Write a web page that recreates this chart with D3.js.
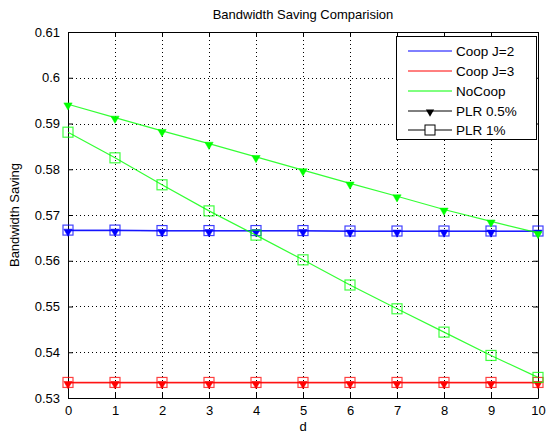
<!DOCTYPE html>
<html>
  <head>
    <meta charset="utf-8">
    <title>Bandwidth Saving Comparision</title>
    <script type="text/javascript" src="https://d3js.org/d3.v7.min.js"></script>
    <style>
      html, body { margin: 0; background: #fff; }
      text { font-family: "Liberation Sans", Arial, sans-serif; }
    </style>
  </head>
  <body>
    <script>

    // data
    var dValues = [0, 1, 2, 3, 4, 5, 6, 7, 8, 9, 10];
    var coopJ2Plr05 = [0.5666, 0.5666, 0.5665, 0.5665, 0.5665, 0.5665, 0.5664, 0.5664, 0.5664, 0.5664, 0.5664];
    var coopJ2Plr1  = [0.5667, 0.5667, 0.5666, 0.5666, 0.5666, 0.5666, 0.5665, 0.5665, 0.5665, 0.5665, 0.5665];
    var coopJ3Plr05 = [0.5333, 0.5333, 0.5333, 0.5333, 0.5333, 0.5333, 0.5333, 0.5333, 0.5333, 0.5333, 0.5333];
    var coopJ3Plr1  = [0.5334, 0.5334, 0.5334, 0.5334, 0.5334, 0.5334, 0.5334, 0.5334, 0.5334, 0.5334, 0.5334];
    var noCoopPlr05 = [0.5942, 0.5913, 0.5884, 0.5856, 0.5827, 0.5798, 0.5769, 0.5741, 0.5712, 0.5686, 0.5661];
    var noCoopPlr1  = [0.5881, 0.5825, 0.5766, 0.5709, 0.5656, 0.5602, 0.5547, 0.5495, 0.5444, 0.5393, 0.5345];
    var yTicks = [0.53, 0.54, 0.55, 0.56, 0.57, 0.58, 0.59, 0.6, 0.61];
    var legendNames = ["Coop J=2", "Coop J=3", "NoCoop", "PLR 0.5%", "PLR 1%"];

    var series = [
      {vals: coopJ2Plr05, color: "#0000ff", marker: "tri"},
      {vals: coopJ2Plr1,  color: "#0000ff", marker: "sq"},
      {vals: coopJ3Plr05, color: "#ff0000", marker: "tri"},
      {vals: coopJ3Plr1,  color: "#ff0000", marker: "sq"},
      {vals: noCoopPlr05, color: "#00ff00", marker: "tri"},
      {vals: noCoopPlr1,  color: "#00ff00", marker: "sq"}
    ];

    var W = 547, H = 435;
    var plotL = 68, plotR = 538, plotT = 32, plotB = 398;

    var svg = d3.select("body").append("svg")
                .attr("width", W).attr("height", H);

    var x = d3.scaleLinear().domain([0, 10]).range([plotL, plotR]);
    var y = d3.scaleLinear().domain([0.53, 0.61]).range([plotB, plotT]);

    // grid
    var grid = svg.append("g").attr("stroke", "#000").attr("stroke-width", 1)
                  .attr("stroke-dasharray", "1,3").attr("shape-rendering", "crispEdges");
    grid.selectAll(".gx").data(dValues.slice(1, -1)).enter().append("line")
        .attr("x1", function(d) {return Math.round(x(d)) + 0.5})
        .attr("x2", function(d) {return Math.round(x(d)) + 0.5})
        .attr("y1", plotT).attr("y2", plotB);
    grid.selectAll(".gy").data(yTicks.slice(1, -1)).enter().append("line")
        .attr("y1", function(d) {return Math.round(y(d)) + 0.5})
        .attr("y2", function(d) {return Math.round(y(d)) + 0.5})
        .attr("x1", plotL).attr("x2", plotR);

    // axes (MATLAB box with inward ticks)
    var axB = d3.axisBottom(x).tickValues(dValues).tickSizeInner(-5).tickSizeOuter(0).tickPadding(8);
    var axT = d3.axisTop(x).tickValues(dValues).tickSizeInner(-5).tickSizeOuter(0).tickFormat("");
    var axL = d3.axisLeft(y).tickValues(yTicks).tickSizeInner(-5).tickSizeOuter(0).tickPadding(8)
                .tickFormat(function(d) {return String(+d.toFixed(2))});
    var axR = d3.axisRight(y).tickValues(yTicks).tickSizeInner(-5).tickSizeOuter(0).tickFormat("");

    function styleAxis(g) {
      g.selectAll("path, line").attr("stroke", "#000");
      g.selectAll("text").attr("font-size", 13).attr("fill", "#000")
       .attr("font-family", "'Liberation Sans', Arial, sans-serif");
    }
    svg.append("g").attr("transform", "translate(0," + plotB + ")").call(axB).call(styleAxis);
    svg.append("g").attr("transform", "translate(0," + plotT + ")").call(axT).call(styleAxis);
    svg.append("g").attr("transform", "translate(" + plotL + ",0)").call(axL).call(styleAxis);
    svg.append("g").attr("transform", "translate(" + plotR + ",0)").call(axR).call(styleAxis);

    // lines and markers
    var line = d3.line().x(function(d, i) {return x(dValues[i])}).y(function(d) {return y(d)});
    var tri = d3.symbol().type(d3.symbolTriangle).size(30);

    series.forEach(function(s) {
      var g = svg.append("g");
      g.append("path").datum(s.vals).attr("d", line)
       .attr("fill", "none").attr("stroke", s.color).attr("stroke-width", 1.2).attr("opacity", 0.8);
      if (s.marker == "sq") {
        g.selectAll("rect").data(s.vals).enter().append("rect")
         .attr("x", function(d, i) {return x(dValues[i]) - 5})
         .attr("y", function(d) {return y(d) - 5})
         .attr("width", 10).attr("height", 10)
         .attr("fill", "none").attr("stroke", s.color).attr("stroke-width", 1.2).attr("opacity", 0.75);
      } else {
        g.selectAll("path.m").data(s.vals).enter().append("path").attr("class", "m")
         .attr("d", tri)
         .attr("transform", function(d, i) {return "translate(" + x(dValues[i]) + "," + (y(d) + 1) + ") rotate(180)"})
         .attr("fill", s.color).attr("stroke", s.color).attr("stroke-width", 0.5);
      }
    });

    // labels
    svg.append("text").attr("x", (plotL + plotR) / 2).attr("y", 19).attr("text-anchor", "middle")
       .attr("font-size", 13).text("Bandwidth Saving Comparision");
    svg.append("text").attr("x", (plotL + plotR) / 2).attr("y", 431).attr("text-anchor", "middle")
       .attr("font-size", 13).text("d");
    svg.append("text").attr("transform", "translate(19," + ((plotT + plotB) / 2) + ") rotate(-90)")
       .attr("text-anchor", "middle").attr("font-size", 13).text("Bandwidth Saving");

    // legend
    var lg = svg.append("g");
    lg.append("rect").attr("x", 396.5).attr("y", 36.5).attr("width", 140).attr("height", 103)
      .attr("fill", "#fff").attr("stroke", "#000");
    var legendColors = ["#0000ff", "#ff0000", "#00ff00", "#000", "#000"];
    var rowY = [51, 71, 91, 111, 130];
    legendNames.forEach(function(name, i) {
      lg.append("line").attr("x1", 408).attr("x2", 452).attr("y1", rowY[i]).attr("y2", rowY[i])
        .attr("stroke", legendColors[i]).attr("stroke-width", 1);
      if (i == 3) {
        lg.append("path").attr("d", tri)
          .attr("transform", "translate(430," + (rowY[i] + 1) + ") rotate(180)").attr("fill", "#000");
      }
      if (i == 4) {
        lg.append("rect").attr("x", 425).attr("y", rowY[i] - 5).attr("width", 10).attr("height", 10)
          .attr("fill", "#fff").attr("stroke", "#000");
      }
      lg.append("text").attr("x", 456).attr("y", rowY[i] + 5).attr("font-size", 13.5).text(name);
    });

    </script>
  </body>
</html>
